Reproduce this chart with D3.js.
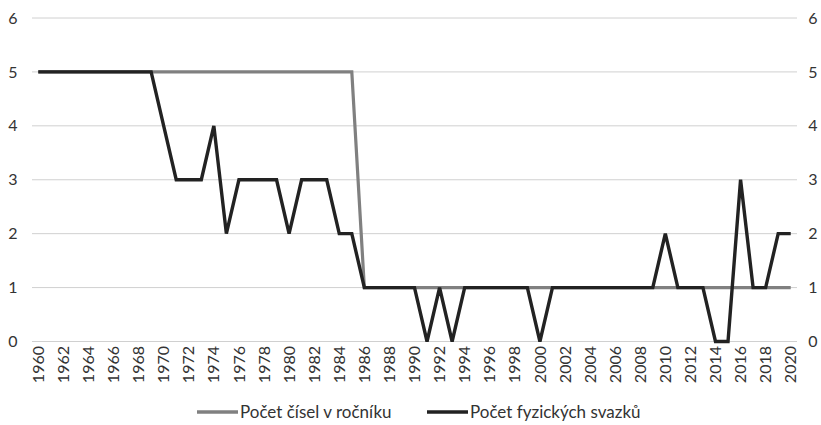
<!DOCTYPE html>
<html><head><meta charset="utf-8">
<script src="https://cdn.jsdelivr.net/npm/d3@7"></script>
<style>body{margin:0;background:#fff}svg text{font-family:Lato,"Open Sans",sans-serif;fill:#333}</style>
</head><body>
<svg id="c" width="821" height="425"></svg>
<script>
const years = d3.range(1960, 2021);
const seriesNames = ["Počet čísel v ročníku", "Počet fyzických svazků"];
const cisla = [5,5,5,5,5,5,5,5,5,5, 5,5,5,5,5,5,5,5,5,5, 5,5,5,5,5,5,
  1,1,1,1,1,1,1,1,1,1, 1,1,1,1,1,1,1,1,1,1, 1,1,1,1,1,1,1,1,1,1, 1,1,1,1,1];
const svazky = [5,5,5,5,5,5,5,5,5,5, 4, 3,3,3, 4, 2, 3,3,3,3, 2, 3,3,3, 2,2,
  1,1,1,1,1, 0, 1, 0, 1,1,1,1,1,1, 0, 1,1,1,1,1,1,1,1,1, 2, 1,1,1, 0,0, 3, 1,1, 2,2];
const yTicks = [0,1,2,3,4,5,6];
const colors = ["#808080", "#222222"];

const svg = d3.select("#c");
const m = {l:32, r:24, t:18, b:84};
const W = 821, H = 425;
const x = d3.scaleBand().domain(years).range([m.l, W - m.r]);
const y = d3.scaleLinear().domain([0, 6]).range([341.5, 18]);
const cx = d => x(d) + x.bandwidth() / 2;

// gridlines
svg.append("g").selectAll("line").data(yTicks).join("line")
  .attr("x1", m.l).attr("x2", W - m.r)
  .attr("y1", d => y(d)).attr("y2", d => y(d))
  .attr("stroke", "#d0d0d0").attr("stroke-width", 1);

// left axis labels
svg.append("g").selectAll("text").data(yTicks).join("text")
  .attr("x", 13).attr("y", d => y(d)).attr("dy", "0.35em")
  .attr("text-anchor", "middle").attr("font-size", 16).text(d => d);
// right axis labels
svg.append("g").selectAll("text").data(yTicks).join("text")
  .attr("x", 813).attr("y", d => y(d)).attr("dy", "0.35em")
  .attr("text-anchor", "middle").attr("font-size", 16).text(d => d);

// x labels
svg.append("g").selectAll("text").data(years.filter(d => (d - 1960) % 2 === 0)).join("text")
  .attr("transform", d => `translate(${cx(d)},346) rotate(-90)`)
  .attr("dy", "0.35em").attr("text-anchor", "end").attr("font-size", 16)
  .text(d => d);

const line = d3.line().x((d, i) => cx(years[i])).y(d => y(d));
svg.append("path").datum(cisla).attr("d", line)
  .attr("fill", "none").attr("stroke", colors[0]).attr("stroke-width", 3.2);
svg.append("path").datum(svazky).attr("d", line)
  .attr("fill", "none").attr("stroke", colors[1]).attr("stroke-width", 3.4)
  .attr("stroke-linejoin", "miter");

// legend
const lg = svg.append("g");
const lx = [197, 427];
seriesNames.forEach((n, i) => {
  lg.append("line").attr("x1", lx[i]).attr("x2", lx[i] + 41)
    .attr("y1", 412).attr("y2", 412).attr("stroke", colors[i]).attr("stroke-width", 3.4);
  lg.append("text").attr("x", lx[i] + 43).attr("y", 412).attr("dy", "0.35em")
    .attr("font-size", 17).text(n);
});
</script>
</body></html>
